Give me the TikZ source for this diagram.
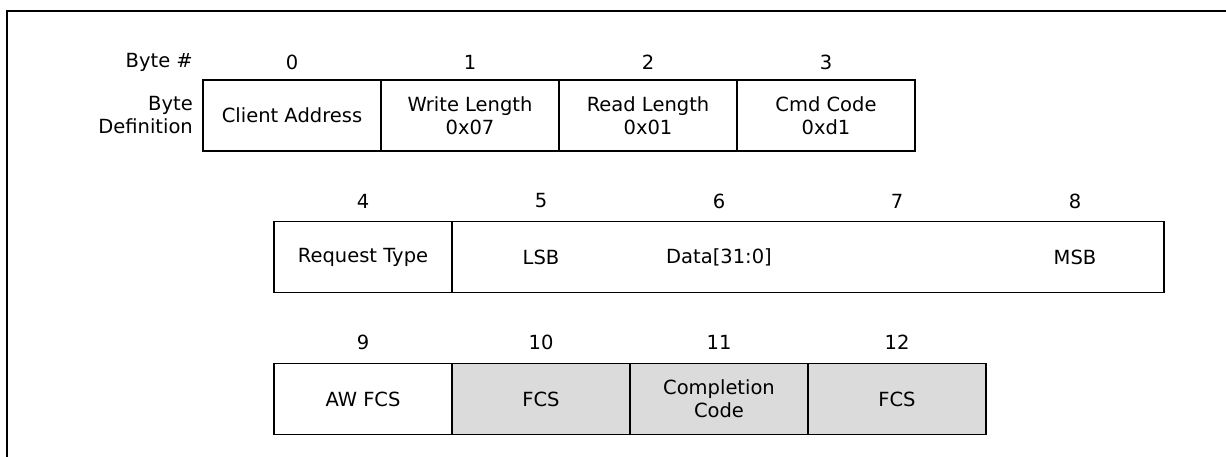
\documentclass[tikz,border=0pt]{standalone}
\usepackage{fontspec}
\setmainfont{DejaVu Sans}
\usepackage{tikz}

\tikzset{
  bytebox/.style={draw, line width=1.6pt, minimum width=178pt, minimum height=71pt,
    inner sep=0pt, align=center, font=\fontsize{19.5}{23}\selectfont},
  fcsbox/.style={bytebox, fill=black!14},
  bytenum/.style={font=\fontsize{19.5}{23}\selectfont, inner sep=0pt},
}

\begin{document}
\begin{tikzpicture}[x=1pt, y=-1pt]

    \useasboundingbox (0,0) rectangle (1226,457);
    \draw[line width=2.5pt] (7,457) -- (7,11) -- (1226,11);

    % first row
    \node (hdr)  at ( 193, 62 )[bytenum, anchor=east] {Byte \#};
    \node (def)  at ( 193, 115 )[bytenum, anchor=east, align=right] {Byte\\Definition};

    \node (b0)  at ( 292, 115.5 )[bytebox] {Client Address};
    \node (b1)  at ( 470, 115.5 )[bytebox] {Write Length\\0x07};
    \node (b2)  at ( 648, 115.5 )[bytebox] {Read Length\\0x01};
    \node (b3)  at ( 826, 115.5 )[bytebox] {Cmd Code\\0xd1};

    \node (n0)  at ( 292, 62 )[bytenum] {0};
    \node (n1)  at ( 470, 62 )[bytenum] {1};
    \node (n2)  at ( 648, 62 )[bytenum] {2};
    \node (n3)  at ( 826, 62 )[bytenum] {3};

    % second row
    \node (b4)  at ( 363, 257 )[bytebox] {Request Type};
    \node (data)  at ( 808, 257 )[bytebox, minimum width=712pt] {};
    \node (lsb)  at ( 541, 257 )[bytenum] {LSB};
    \node (dword)  at ( 719, 257 )[bytenum] {Data[31:0]};
    \node (msb)  at ( 1075, 257 )[bytenum] {MSB};

    \node (n4)  at ( 363, 201 )[bytenum] {4};
    \node (n5)  at ( 541, 201 )[bytenum] {5};
    \node (n6)  at ( 719, 201 )[bytenum] {6};
    \node (n7)  at ( 897, 201 )[bytenum] {7};
    \node (n8)  at ( 1075, 201 )[bytenum] {8};

    % third row
    \node (b9)  at ( 363, 399 )[bytebox] {AW FCS};
    \node (b10)  at ( 541, 399 )[fcsbox] {FCS};
    \node (b11)  at ( 719, 399 )[fcsbox] {Completion\\Code};
    \node (b12)  at ( 897, 399 )[fcsbox] {FCS};

    \node (n9)  at ( 363, 342 )[bytenum] {9};
    \node (n10)  at ( 541, 342 )[bytenum] {10};
    \node (n11)  at ( 719, 342 )[bytenum] {11};
    \node (n12)  at ( 897, 342 )[bytenum] {12};

\end{tikzpicture}
\end{document}
